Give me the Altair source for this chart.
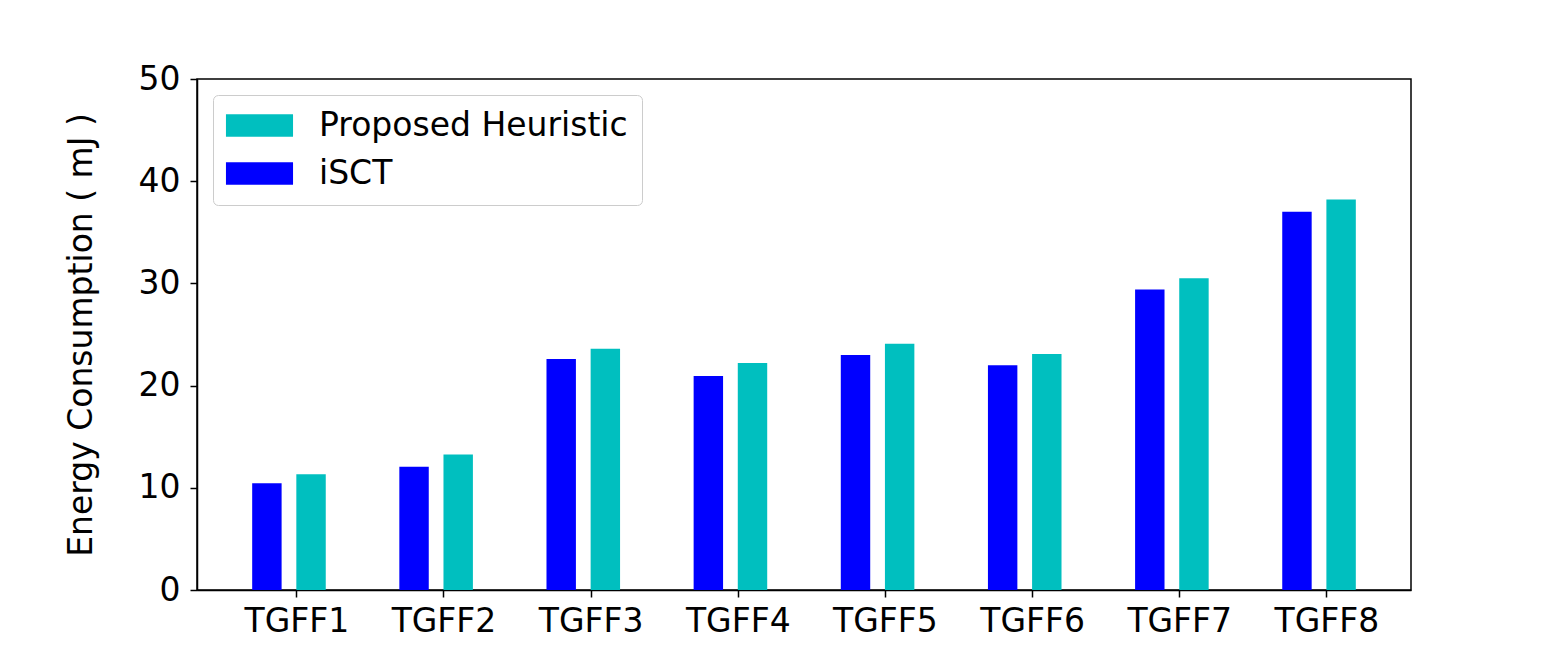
import altair as alt
import pandas as pd

categories = ["TGFF1", "TGFF2", "TGFF3", "TGFF4", "TGFF5", "TGFF6", "TGFF7", "TGFF8"]
isct = [10.45, 12.07, 22.6, 20.95, 23.0, 22.0, 29.4, 37.0]
proposed = [11.33, 13.25, 23.6, 22.2, 24.1, 23.1, 30.5, 38.2]
series_names = ["Proposed Heuristic", "iSCT"]
series_colors = ["#00bfbf", "#0000ff"]
bar_width = 0.2
# offsets of each series' left edge from the category tick
series_offsets = {"iSCT": -0.3, "Proposed Heuristic": 0.0}

rows = []
for i, c in enumerate(categories):
    for name, vals in (("iSCT", isct), ("Proposed Heuristic", proposed)):
        left = i + series_offsets[name]
        rows.append({"cat": c, "idx": i, "series": name, "value": vals[i],
                     "x0": left, "x1": left + bar_width})
df = pd.DataFrame(rows)

FONT = "DejaVu Sans"
FS = 33

bars = alt.Chart(df).mark_bar(strokeWidth=0).encode(
    x=alt.X("x0:Q",
            scale=alt.Scale(domain=[-0.675, 7.575], nice=False, zero=False),
            axis=alt.Axis(values=list(range(len(categories))),
                          labelExpr="'TGFF' + (datum.value + 1)",
                          title=None, grid=False, tickSize=7, tickWidth=1.5,
                          tickColor="black", domainColor="black", domainWidth=1.5,
                          labelFont=FONT, labelFontSize=FS, labelColor="black",
                          labelPadding=8, labelFlush=False)),
    x2="x1:Q",
    y=alt.Y("value:Q",
            scale=alt.Scale(domain=[0, 50], nice=False),
            axis=alt.Axis(values=[0, 10, 20, 30, 40, 50],
                          title="Energy Consumption ( mJ )", grid=False,
                          tickSize=7, tickWidth=1.5, tickColor="black",
                          domainColor="black", domainWidth=1.5,
                          labelFont=FONT, labelFontSize=FS, labelColor="black",
                          labelPadding=10,
                          titleFont=FONT, titleFontSize=FS, titleFontWeight="normal",
                          titleColor="black", titlePadding=40)),
    y2=alt.datum(0),
    color=alt.Color("series:N",
                    scale=alt.Scale(domain=series_names, range=series_colors),
                    legend=alt.Legend(title=None, orient="none",
                                      legendX=16, legendY=16,
                                      symbolType="M-3,-1H3V1H-3Z",
                                      symbolSize=500, symbolStrokeWidth=0,
                                      symbolOpacity=1, symbolOffset=16,
                                      labelFont=FONT, labelFontSize=FS,
                                      labelColor="black", labelOffset=43,
                                      rowPadding=14, padding=14,
                                      fillColor="white", strokeColor="#cccccc",
                                      cornerRadius=5, labelLimit=600)),
)

chart = bars.properties(
    width=1214, height=511,
    padding={"left": 65, "top": 63, "right": 5, "bottom": 5},
).configure(background="white").configure_view(stroke="black", strokeWidth=1.5)

chart.save("out.html", embed_options={"renderer": "svg", "actions": False})
